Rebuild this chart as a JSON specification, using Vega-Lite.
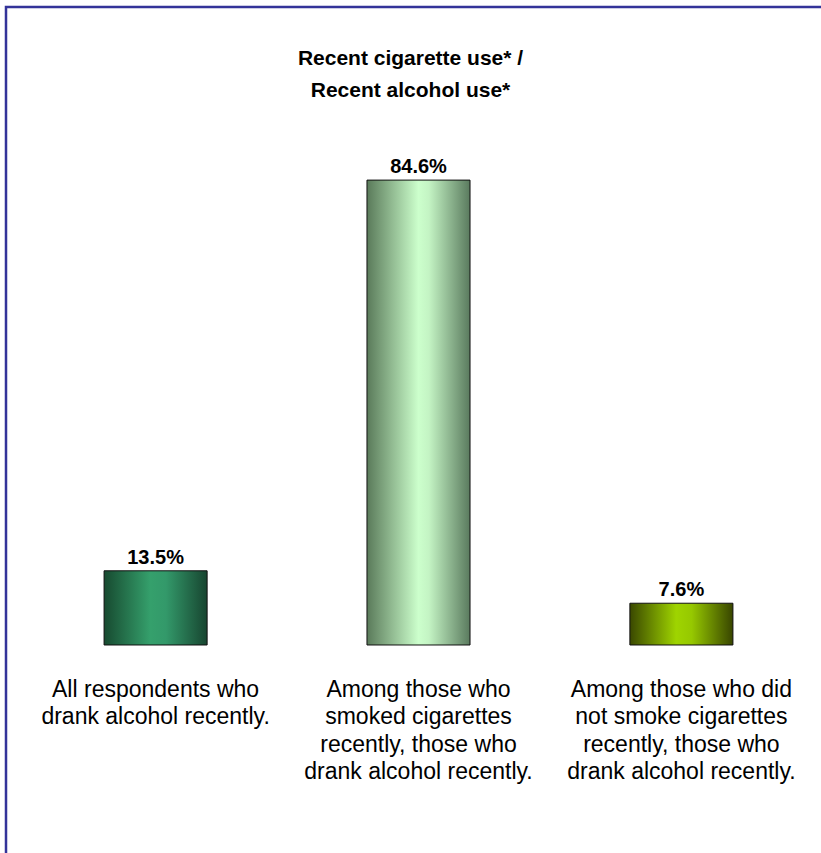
{
  "$schema": "https://vega.github.io/schema/vega-lite/v6.json",
  "width": 825,
  "height": 860,
  "autosize": "none",
  "padding": {"left": 6, "top": 7, "right": 0, "bottom": 0},
  "background": "white",
  "config": {
    "view": {"stroke": "#333399", "strokeWidth": 2.5},
    "font": "Liberation Sans"
  },
  "title": {
    "text": ["Recent cigarette use* /", "Recent alcohol use*"],
    "fontSize": 21,
    "fontWeight": "bold",
    "color": "black",
    "lineHeight": 32,
    "anchor": "middle",
    "frame": "group",
    "offset": -94,
    "dx": -8
  },
  "data": {
    "values": [
      {"group": "All respondents who|drank alcohol recently.", "value": 13.5, "pct": "13.5%", "id": 1},
      {"group": "Among those who|smoked cigarettes|recently, those who|drank alcohol recently.", "value": 84.6, "pct": "84.6%", "id": 2},
      {"group": "Among those who did|not smoke cigarettes|recently, those who|drank alcohol recently.", "value": 7.6, "pct": "7.6%", "id": 3}
    ]
  },
  "encoding": {
    "x": {
      "field": "group",
      "type": "nominal",
      "sort": null,
      "axis": null,
      "scale": {"paddingInner": 0.608, "paddingOuter": 0.373}
    },
    "y": {
      "field": "value",
      "type": "quantitative",
      "axis": null,
      "scale": {"domain": [-40.4, 116.1], "nice": false, "zero": false}
    }
  },
  "layer": [
    {
      "transform": [{"filter": "datum.id == 1"}],
      "mark": {
        "type": "bar",
        "stroke": "#111111",
        "strokeWidth": 1,
        "color": {
          "gradient": "linear", "x1": 0, "x2": 1, "y1": 0, "y2": 0,
          "stops": [
            {"offset": 0, "color": "#174a30"},
            {"offset": 0.45, "color": "#35a06c"},
            {"offset": 0.6, "color": "#33996a"},
            {"offset": 1, "color": "#174530"}
          ]
        }
      }
    },
    {
      "transform": [{"filter": "datum.id == 2"}],
      "mark": {
        "type": "bar",
        "stroke": "#111111",
        "strokeWidth": 1,
        "color": {
          "gradient": "linear", "x1": 0, "x2": 1, "y1": 0, "y2": 0,
          "stops": [
            {"offset": 0, "color": "#5a7a5a"},
            {"offset": 0.5, "color": "#ccffcc"},
            {"offset": 0.6, "color": "#c4f4c4"},
            {"offset": 1, "color": "#5a7a5e"}
          ]
        }
      }
    },
    {
      "transform": [{"filter": "datum.id == 3"}],
      "mark": {
        "type": "bar",
        "stroke": "#111111",
        "strokeWidth": 1,
        "color": {
          "gradient": "linear", "x1": 0, "x2": 1, "y1": 0, "y2": 0,
          "stops": [
            {"offset": 0, "color": "#3a4800"},
            {"offset": 0.45, "color": "#9fd400"},
            {"offset": 0.6, "color": "#96c800"},
            {"offset": 1, "color": "#384500"}
          ]
        }
      }
    },
    {
      "mark": {"type": "text", "fontSize": 20, "fontWeight": "bold", "baseline": "alphabetic", "dy": -7, "color": "black"},
      "encoding": {"text": {"field": "pct"}}
    },
    {
      "mark": {"type": "text", "fontSize": 23, "baseline": "alphabetic", "dy": 52, "lineBreak": "|", "lineHeight": 27.3, "color": "black"},
      "encoding": {"y": {"datum": 0}, "text": {"field": "group"}}
    }
  ]
}
